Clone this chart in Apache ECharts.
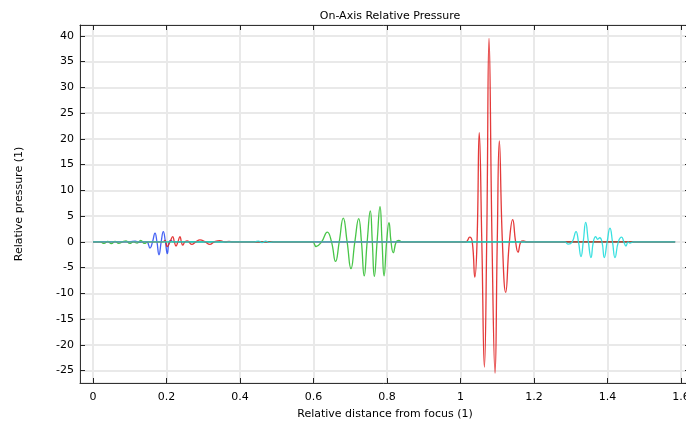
<!DOCTYPE html>
<html lang="en">
<head>
    <meta charset="UTF-8">
    <title>On-Axis Relative Pressure</title>
    <style>
        * {
            margin: 0;
            padding: 0;
        }

        html, body {
            height: 100%;
            width: 100%;
            background: #fff;
        }
    </style>
    <script src="https://cdn.jsdelivr.net/npm/echarts@6/dist/echarts.min.js"></script>
</head>
<body>

<div id="main" style="width: 686px;height: 421px;"></div>

<script>
    // pressure along the axis, [distance, pressure]
    var bluePulse = [
        [0, 0], [0.10, 0], [0.115, 0.15], [0.125, -0.1], [0.135, 0], [0.146, 0],
        [0.155, -1.2], [0.162, 0], [0.1687, 1.7], [0.174, 0], [0.1796, -2.5],
        [0.1855, 0], [0.1913, 2.0], [0.197, 0], [0.2022, -2.3], [0.207, 0],
        [0.212, 0.3], [0.218, 0], [1.584, 0]
    ];
    var greenPulse = [
        [0, 0], [0.02, 0], [0.03, -0.3], [0.04, 0.1], [0.05, -0.35], [0.06, 0.1],
        [0.07, -0.3], [0.08, 0], [0.09, 0.2], [0.10, -0.3], [0.11, 0], [0.12, -0.25],
        [0.13, 0.3], [0.14, -0.3], [0.15, 0], [0.59, 0], [0.598, 0],
        [0.607, -0.9], [0.622, 0], [0.6376, 1.9], [0.649, 0], [0.660, -3.8],
        [0.670, 0], [0.681, 4.6], [0.6915, 0], [0.702, -5.2], [0.7125, 0],
        [0.723, 4.5], [0.7305, 0], [0.738, -6.6], [0.746, 0], [0.7546, 6.0],
        [0.760, 0], [0.7655, -6.7], [0.773, 0], [0.781, 6.85], [0.7865, 0],
        [0.792, -6.6], [0.799, 0], [0.8054, 3.75], [0.811, 0], [0.817, -2.1],
        [0.825, 0], [0.832, 0.3], [0.84, 0], [1.584, 0]
    ];
    var redPulse = [
        [0, 0], [0.19, 0], [0.196, 0.3], [0.202, -0.9], [0.2095, 0], [0.2169, 1.0],
        [0.2214, 0], [0.2259, -0.8], [0.231, 0], [0.2367, 1.0], [0.2405, 0],
        [0.244, -0.65], [0.25, 0], [0.2566, 0.2], [0.2686, -0.5], [0.28, 0],
        [0.291, 0.4], [0.305, 0], [0.318, -0.5], [0.33, 0], [0.345, 0.25],
        [0.36, 0], [0.37, 0.1], [0.38, 0], [1.005, 0], [1.015, 0], [1.025, 0.9],
        [1.032, 0], [1.039, -6.85], [1.045, 0], [1.051, 21.2], [1.058, 0],
        [1.065, -24.3], [1.0713, 0], [1.0776, 39.5], [1.0858, 0], [1.094, -25.5],
        [1.1, 0], [1.1056, 19.6], [1.114, 0], [1.123, -9.8], [1.133, 0],
        [1.142, 4.3], [1.15, 0], [1.1565, -2.0], [1.164, 0], [1.171, 0.2],
        [1.18, 0], [1.584, 0]
    ];
    var cyanPulse = [
        [0, 0], [0.44, 0], [0.45, 0.15], [0.46, -0.15], [0.47, 0.15], [0.48, -0.1],
        [0.49, 0], [1.275, 0], [1.284, 0], [1.2933, -0.45], [1.304, 0],
        [1.3143, 2.0], [1.321, 0], [1.3279, -2.85], [1.334, 0], [1.3407, 3.8],
        [1.348, 0], [1.3551, -3.05], [1.3615, 0], [1.3679, 1.0], [1.3733, 0.5],
        [1.3788, 0.8], [1.385, 0], [1.3913, -3.05], [1.399, 0], [1.4068, 2.66],
        [1.4136, 0], [1.4204, -3.05], [1.4295, 0], [1.4386, 0.9], [1.4445, 0],
        [1.4503, -0.8], [1.456, 0], [1.4612, -0.25], [1.47, 0], [1.584, 0]
    ];
    var pulseColors = ['#2b4cf2', '#2fbd2f', '#e01e1e', '#1fdcdc'];

    var myChart = echarts.init(document.getElementById('main'));

    var font = 'DejaVu Sans';
    var gridLine = {show: true, lineStyle: {color: '#e9e9e9', width: 2}};
    var boxLine = {show: true, onZero: false, lineStyle: {color: '#333', width: 1}};
    var tick = {show: true, inside: true, length: 5, lineStyle: {color: '#222'}};

    function pulseSeries(data, color) {
        return {
            type: 'line',
            data: data,
            symbol: 'none',
            smooth: 0.5,
            lineStyle: {color: color, width: 1.3, opacity: 0.88},
            xAxisIndex: 0,
            yAxisIndex: 0
        };
    }

    var option = {
        animation: false,
        backgroundColor: '#fff',
        title: {
            text: 'On-Axis Relative Pressure',
            left: 385,
            textAlign: 'center',
            top: 6,
            textStyle: {fontFamily: font, fontSize: 11, fontWeight: 'normal', color: '#000'}
        },
        grid: {left: 80, top: 25, width: 610, height: 358, outerBoundsMode: 'none', containLabel: false},
        xAxis: [
            {
                type: 'value',
                min: -0.0354,
                max: 1.6245,
                splitNumber: 8,
                name: 'Relative distance from focus (1)',
                nameLocation: 'middle',
                nameGap: 26,
                nameTextStyle: {fontFamily: font, fontSize: 11, color: '#000'},
                axisLine: boxLine,
                axisTick: tick,
                splitLine: gridLine,
                axisLabel: {
                    fontFamily: font, fontSize: 11, color: '#000', margin: 9,
                    showMinLabel: false, showMaxLabel: false
                }
            },
            {
                type: 'value',
                position: 'top',
                min: -0.0354,
                max: 1.6245,
                splitNumber: 8,
                axisLine: boxLine,
                axisTick: tick,
                splitLine: {show: false},
                axisLabel: {show: false}
            }
        ],
        yAxis: [
            {
                type: 'value',
                min: -27.4,
                max: 42.1,
                splitNumber: 14,
                name: 'Relative pressure (1)',
                nameLocation: 'middle',
                nameGap: 55,
                nameTextStyle: {fontFamily: font, fontSize: 11, color: '#000'},
                axisLine: boxLine,
                axisTick: tick,
                splitLine: gridLine,
                axisLabel: {
                    fontFamily: font, fontSize: 11, color: '#000', margin: 6,
                    showMinLabel: false, showMaxLabel: false
                }
            },
            {
                type: 'value',
                position: 'right',
                min: -27.4,
                max: 42.1,
                splitNumber: 14,
                axisLine: boxLine,
                axisTick: tick,
                splitLine: {show: false},
                axisLabel: {show: false}
            }
        ],
        series: [
            pulseSeries(bluePulse, pulseColors[0]),
            pulseSeries(greenPulse, pulseColors[1]),
            pulseSeries(redPulse, pulseColors[2]),
            pulseSeries(cyanPulse, pulseColors[3])
        ]
    };
    myChart.setOption(option);
</script>

</body>
</html>
